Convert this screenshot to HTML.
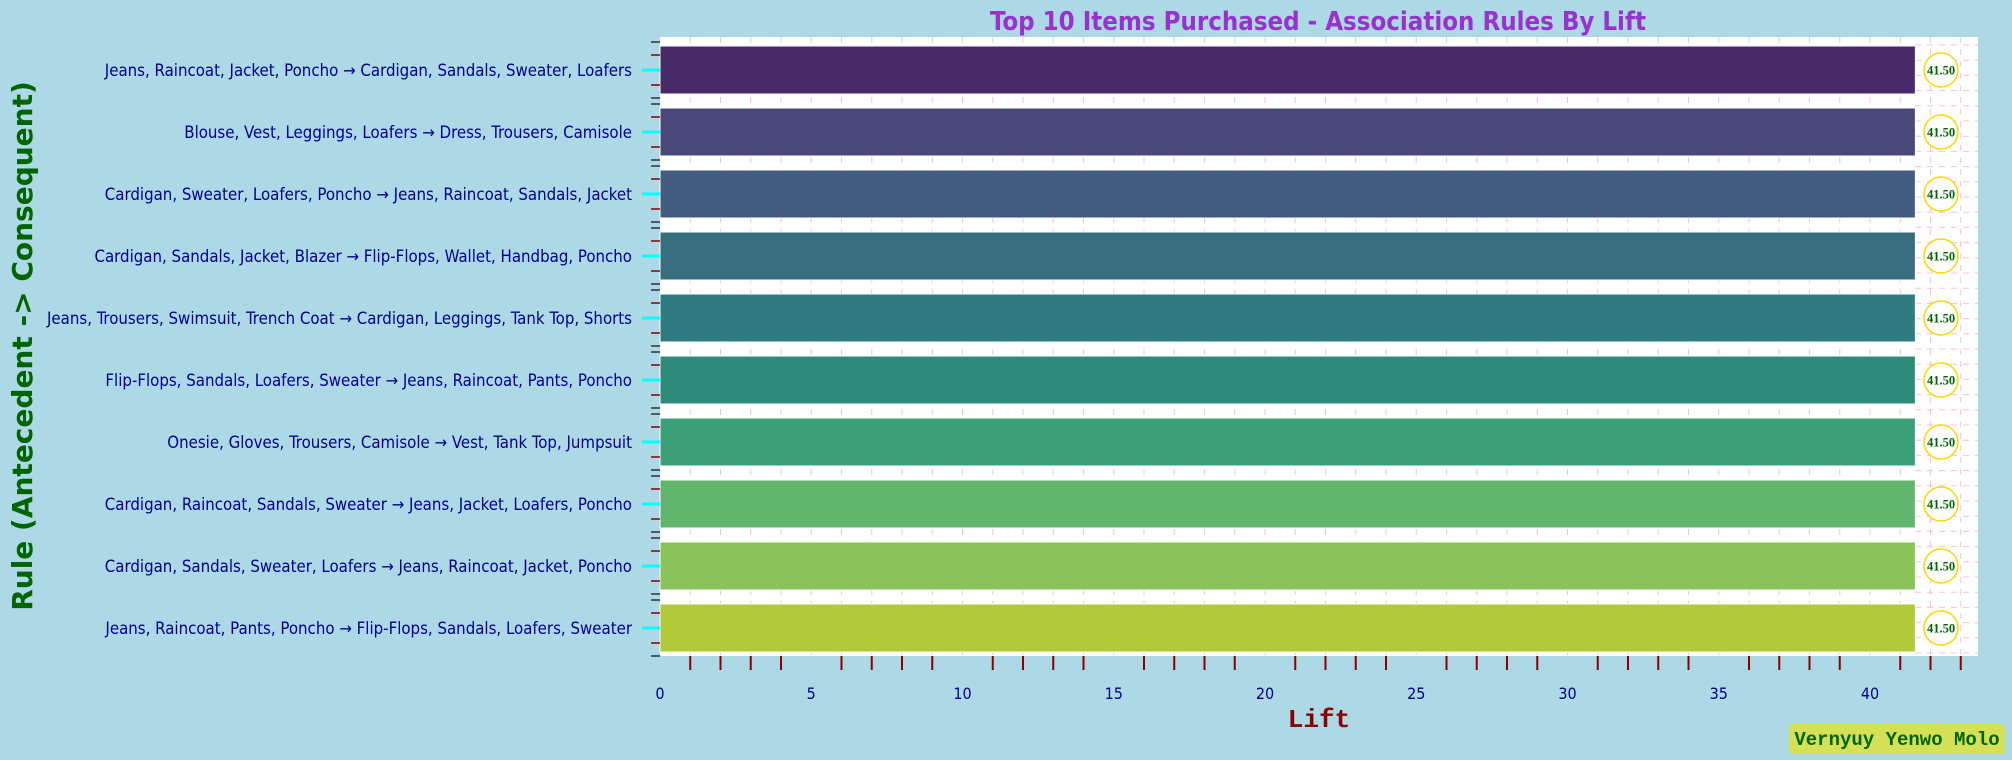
<!DOCTYPE html>
<html><head><meta charset="utf-8"><style>
body{margin:0;background:#add8e6;}
svg{display:block;}
</style></head><body>
<svg width="2012" height="760" xmlns="http://www.w3.org/2000/svg">
<rect x="0" y="0" width="2012" height="760" fill="#add8e6"/>
<rect x="660" y="37" width="1318" height="619" fill="#ffffff"/>
<g id="grid"></g><g id="bars"></g><g id="axes"></g>
<text x="1318" y="30" text-anchor="middle" font-family="'DejaVu Sans Condensed','DejaVu Sans',sans-serif" font-weight="bold" font-size="25.6" fill="#9932cc">Top 10 Items Purchased - Association Rules By Lift</text>
<text transform="translate(32,346) rotate(-90)" text-anchor="middle" font-family="'DejaVu Sans',sans-serif" font-weight="bold" font-size="28" fill="#006400">Rule (Antecedent -&gt; Consequent)</text>
<text x="1319" y="727" text-anchor="middle" font-family="'Liberation Mono',monospace" font-weight="bold" font-size="26" fill="#8b0000">Lift</text>
<rect x="1789" y="724" width="216" height="30" rx="4" fill="#d4e157"/>
<text x="1897" y="745" text-anchor="middle" font-family="'Liberation Mono',monospace" font-weight="bold" font-size="19" fill="#006400">Vernyuy Yenwo Molo</text>
</svg>
<script>
const rules=["Jeans, Raincoat, Jacket, Poncho → Cardigan, Sandals, Sweater, Loafers","Blouse, Vest, Leggings, Loafers → Dress, Trousers, Camisole","Cardigan, Sweater, Loafers, Poncho → Jeans, Raincoat, Sandals, Jacket","Cardigan, Sandals, Jacket, Blazer → Flip-Flops, Wallet, Handbag, Poncho","Jeans, Trousers, Swimsuit, Trench Coat → Cardigan, Leggings, Tank Top, Shorts","Flip-Flops, Sandals, Loafers, Sweater → Jeans, Raincoat, Pants, Poncho","Onesie, Gloves, Trousers, Camisole → Vest, Tank Top, Jumpsuit","Cardigan, Raincoat, Sandals, Sweater → Jeans, Jacket, Loafers, Poncho","Cardigan, Sandals, Sweater, Loafers → Jeans, Raincoat, Jacket, Poncho","Jeans, Raincoat, Pants, Poncho → Flip-Flops, Sandals, Loafers, Sweater"];
const lifts=[41.5,41.5,41.5,41.5,41.5,41.5,41.5,41.5,41.5,41.5];
const xTicks=[0,5,10,15,20,25,30,35,40];
const colors=["#482a69","#4a487b","#425b80","#386d80","#2e7c7f","#2e8b7c","#3ba077","#61b56d","#8ac35a","#b2c93a"];
const NS="http://www.w3.org/2000/svg";
const x=v=>660+v*30.25;
const y=i=>70+i*62;
function mk(tag,attrs,parent){const e=document.createElementNS(NS,tag);for(const k in attrs)e.setAttribute(k,attrs[k]);parent.appendChild(e);return e;}
const grid=document.getElementById('grid'),bars=document.getElementById('bars'),axes=document.getElementById('axes');
for(let v=1;v<=43;v++){
  const g=mk('line',{x1:x(v),x2:x(v),y1:37,y2:656,stroke:'#ffc0cb','stroke-dasharray':'6,6','stroke-width':1},grid);
  
  
  if(v%5!==0){
    const t=mk('line',{x1:x(v),x2:x(v),y1:656,y2:670,stroke:'#8b0000','stroke-width':2},axes);
    
    
  }
}
for(let k=0;k<=40;k++){
  const yy=45+k*15.2;
  const g=mk('line',{x1:1915,x2:1978,y1:yy,y2:yy,stroke:'#ffc0cb','stroke-dasharray':'6,6','stroke-width':1},grid);
  
  
}
xTicks.forEach(v=>{
  const t=mk('text',{x:x(v),y:699,'text-anchor':'middle','font-family':"'DejaVu Sans Condensed','DejaVu Sans',sans-serif",'font-size':16,fill:'#00008b'},axes);
  t.textContent=v;
  
  
});
rules.forEach((r,i)=>{
  const cy=y(i);
  const b=mk('rect',{x:x(0),y:cy-24,width:x(lifts[i])-x(0),height:48,fill:colors[i],stroke:'#ffffff','stroke-width':1},bars);
  
  
  const c=mk('circle',{cx:1941,cy:cy,r:17,fill:'#ffffff',stroke:'#ffd700','stroke-width':1.5},bars);
  
  
  const vt=mk('text',{x:1941,y:cy+4.5,'text-anchor':'middle','font-family':"'Liberation Serif',serif",'font-weight':'bold','font-size':12.5,fill:'#006400'},bars);
  vt.textContent=lifts[i].toFixed(2);
  
  
  const l=mk('text',{x:632,y:cy+6,'text-anchor':'end','font-family':"'DejaVu Sans Condensed','DejaVu Sans',sans-serif",'font-size':16.7,fill:'#00008b'},axes);
  l.textContent=r;
  
  
  const tk=mk('line',{x1:642,x2:660,y1:cy,y2:cy,stroke:'#00ffff','stroke-width':3},axes);
  
  
  [-28,-15,15,28].forEach(d=>{
    const m=mk('line',{x1:651,x2:660,y1:cy+d,y2:cy+d,stroke:Math.abs(d)>20?'#333':'#8b0000','stroke-width':1.5},axes);
    
    
  });
});
</script>
</body></html>
